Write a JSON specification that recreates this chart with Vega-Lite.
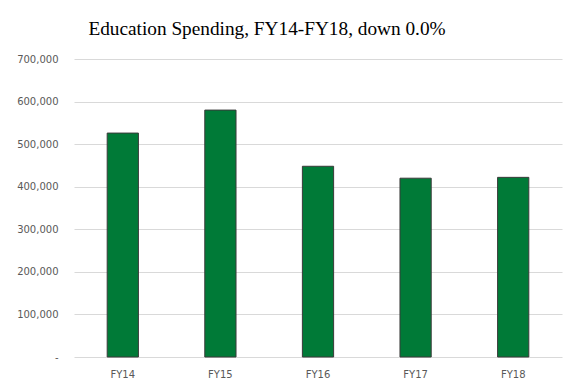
{
  "$schema": "https://vega.github.io/schema/vega-lite/v6.json",
  "autosize": "none",
  "width": 488,
  "height": 298,
  "padding": {"left": 74, "top": 59, "right": 9, "bottom": 32},
  "background": "white",
  "title": {
    "text": "Education Spending, FY14-FY18, down 0.0%",
    "font": "Liberation Serif",
    "fontSize": 19.3,
    "fontWeight": "normal",
    "color": "#000000",
    "anchor": "middle",
    "dx": -51,
    "offset": 15
  },
  "data": {
    "values": [
      {"year": "FY14", "spending": 526000},
      {"year": "FY15", "spending": 580000},
      {"year": "FY16", "spending": 448000},
      {"year": "FY17", "spending": 420000},
      {"year": "FY18", "spending": 422000}
    ]
  },
  "mark": {"type": "bar", "color": "#007A37", "stroke": "#3A3A3A", "strokeWidth": 1},
  "encoding": {
    "x": {
      "field": "year",
      "type": "nominal",
      "sort": null,
      "title": null,
      "scale": {"paddingInner": 0.68, "paddingOuter": 0.34},
      "axis": {
        "labelAngle": 0,
        "labelFont": "DejaVu Sans",
        "labelFontSize": 10,
        "labelColor": "#595959",
        "labelPadding": 12,
        "ticks": false,
        "domain": false
      }
    },
    "y": {
      "field": "spending",
      "type": "quantitative",
      "title": null,
      "scale": {"domain": [0, 700000], "nice": false},
      "axis": {
        "values": [0, 100000, 200000, 300000, 400000, 500000, 600000, 700000],
        "labelExpr": "datum.value == 0 ? '-' : format(datum.value, ',')",
        "labelFont": "DejaVu Sans",
        "labelFontSize": 10,
        "labelColor": "#595959",
        "labelPadding": 16,
        "ticks": false,
        "domain": false,
        "grid": true,
        "gridColor": "#D9D9D9",
        "gridWidth": 1
      }
    }
  },
  "config": {"view": {"stroke": null}}
}
